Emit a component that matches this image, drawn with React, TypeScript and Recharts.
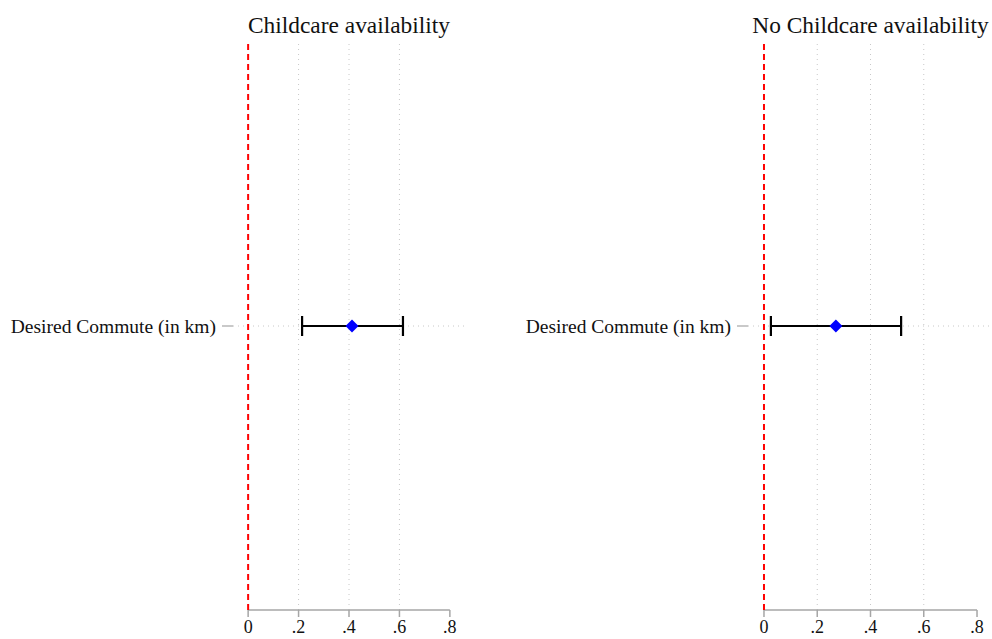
import React from "react";
import {
  ScatterChart,
  Scatter,
  XAxis,
  YAxis,
  ReferenceLine,
  ErrorBar,
} from "recharts";

const panelTitles = ["Childcare availability", "No Childcare availability"];
const variableLabel = "Desired Commute (in km)";
const estimates = [0.412, 0.27];
const ciLow = [0.214, 0.026];
const ciHigh = [0.614, 0.515];
const xTicks = [0, 0.2, 0.4, 0.6, 0.8];
const gridTicks = [0.2, 0.4, 0.6];

const FONT = "'Liberation Serif', 'DejaVu Serif', serif";
const GRAY = "#a6a6a6";

const Diamond = (props: any) => {
  const { cx, cy } = props;
  const r = 6.5;
  return (
    <polygon
      points={`${cx},${cy - r} ${cx + r},${cy} ${cx},${cy + r} ${cx - r},${cy}`}
      fill="#0000ff"
    />
  );
};

// one coefficient panel
function Panel({ idx, left, width, yAxisWidth }: any) {
  const data = [
    {
      x: estimates[idx],
      y: 1,
      err: [estimates[idx] - ciLow[idx], ciHigh[idx] - estimates[idx]],
    },
  ];
  const plotLeft = yAxisWidth;
  const plotW = width - yAxisWidth;
  return (
    <div style={{ position: "absolute", left, top: 0, width, height: 639 }}>
      <div
        style={{
          position: "absolute",
          left: plotLeft,
          width: plotW,
          top: 11,
          textAlign: "center",
          fontFamily: FONT,
          fontSize: 23.4,
          lineHeight: "28px",
          color: "#111",
          whiteSpace: "nowrap",
        }}
      >
        {panelTitles[idx]}
      </div>
      <ScatterChart
        width={width}
        height={639}
        margin={{ top: 42, right: 0, bottom: 0, left: 0 }}
      >
        <XAxis
          type="number"
          dataKey="x"
          domain={[-0.06, 0.86]}
          allowDataOverflow
          ticks={xTicks}
          tickFormatter={(v: number) => (v === 0 ? "0" : String(v).replace(/^0/, ""))}
          axisLine={false}
          tickLine={{ stroke: GRAY, strokeWidth: 1.5 }}
          tickSize={7}
          tickMargin={3}
          height={29}
          tick={{ fill: "#111", fontSize: 18, fontFamily: FONT }}
        />
        <YAxis
          type="number"
          dataKey="y"
          domain={[0, 2]}
          ticks={[1]}
          tickFormatter={() => variableLabel}
          axisLine={false}
          tickLine={{ stroke: GRAY, strokeWidth: 1.2 }}
          tickSize={11}
          tickMargin={6}
          width={yAxisWidth}
          tick={{ fill: "#111", fontSize: 19.5, fontFamily: FONT }}
        />
        {gridTicks.map((g) => (
          <ReferenceLine
            key={g}
            x={g}
            stroke="#c8c8c8"
            strokeWidth={1}
            strokeDasharray="1 4"
          />
        ))}
        <ReferenceLine y={1} stroke="#c8c8c8" strokeWidth={1} strokeDasharray="1 4" />
        <ReferenceLine
          segment={[
            { x: 0, y: 0 },
            { x: 0.8, y: 0 },
          ]}
          stroke={GRAY}
          strokeWidth={1.5}
        />
        <ReferenceLine x={0} stroke="#ff0000" strokeWidth={2} strokeDasharray="6 4" />
        <Scatter data={data} shape={<Diamond />} isAnimationActive={false}>
          <ErrorBar
            dataKey="err"
            direction="x"
            width={10}
            stroke="#000"
            strokeWidth={2.2}
          />
        </Scatter>
      </ScatterChart>
    </div>
  );
}

export default function App() {
  return (
    <div
      style={{
        position: "absolute",
        left: 0,
        top: 0,
        width: 992,
        height: 639,
        overflow: "hidden",
        background: "#fff",
      }}
    >
      <Panel idx={0} left={0} width={465} yAxisWidth={233} />
      <Panel idx={1} left={510} width={483} yAxisWidth={238} />
    </div>
  );
}
